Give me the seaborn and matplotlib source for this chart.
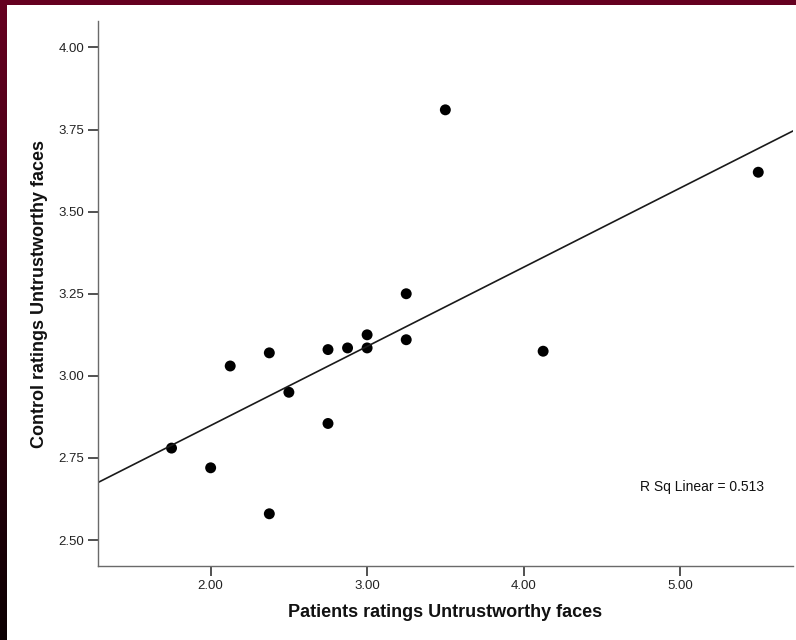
import matplotlib
matplotlib.use("Agg")
import matplotlib.pyplot as plt
import pandas as pd
import seaborn as sns
import numpy as np
from matplotlib.patches import Rectangle

# patients vs control ratings of untrustworthy faces
patients = [1.75, 2.00, 2.125, 2.375, 2.375, 2.50, 2.75, 2.75,
            2.875, 3.00, 3.00, 3.25, 3.25, 3.50, 4.125, 5.50]
controls = [2.78, 2.72, 3.03, 3.07, 2.58, 2.95, 3.08, 2.855,
            3.085, 3.125, 3.085, 3.25, 3.11, 3.81, 3.075, 3.62]
x_ticks = [2.0, 3.0, 4.0, 5.0]
y_ticks = [2.50, 2.75, 3.00, 3.25, 3.50, 3.75, 4.00]
r2_label = "R Sq Linear = 0.513"

df = pd.DataFrame({"patients": patients, "controls": controls})

sns.set_style("white")
plt.rcParams["font.family"] = ["Liberation Sans", "DejaVu Sans"]

fig = plt.figure(figsize=(7.96, 6.4), dpi=100)
fig.patch.set_facecolor("white")

# maroon frame: top bar + left gradient bar
fig.add_artist(Rectangle((0, 1 - 5 / 640), 1, 5 / 640, transform=fig.transFigure,
                         facecolor="#650020", edgecolor="none"))
bg = fig.add_axes([0, 0, 7 / 796, 1 - 5 / 640])
grad = np.linspace(1, 0, 256).reshape(-1, 1)
cmap = matplotlib.colors.LinearSegmentedColormap.from_list("frame", ["#0c0002", "#650020"])
bg.imshow(grad, aspect="auto", cmap=cmap, origin="upper", vmin=0, vmax=1)
bg.set_axis_off()

ax = fig.add_axes([98 / 796, 74 / 640, 695 / 796, 545 / 640])
ax.set_xlim(1.28, 5.722)
ax.set_ylim(2.421, 4.0805)

sns.regplot(data=df, x="patients", y="controls", ax=ax, ci=None, truncate=False,
            scatter_kws={"s": 62, "color": "black", "edgecolors": "none", "alpha": 1},
            line_kws={"color": "#1a1a1a", "lw": 1.2})

ax.set_xlim(1.28, 5.722)
ax.set_ylim(2.421, 4.0805)
ax.set_xticks(x_ticks)
ax.set_yticks(y_ticks)
ax.set_xticklabels([f"{v:.2f}" for v in x_ticks])
ax.set_yticklabels([f"{v:.2f}" for v in y_ticks])

for s in ["top", "right"]:
    ax.spines[s].set_visible(False)
for s in ["left", "bottom"]:
    ax.spines[s].set_color("#6a6a6a")
    ax.spines[s].set_linewidth(1.0)
ax.tick_params(axis="both", direction="out", length=7, width=1.2, color="#333333",
               labelsize=9.5, labelcolor="#222222", pad=3, left=True, bottom=True)

ax.set_xlabel("Patients ratings Untrustworthy faces", fontsize=13, fontweight="bold",
              color="#111111")
ax.set_ylabel("Control ratings Untrustworthy faces", fontsize=13, fontweight="bold",
              color="#111111")
ax.xaxis.set_label_coords(0.5, -0.07)
ax.yaxis.set_label_coords(-0.072, 0.5)

ax.text(4.745, 2.662, r2_label, fontsize=10, color="#111111", va="center", ha="left")

fig.savefig("out.png", dpi=100, facecolor="white")
